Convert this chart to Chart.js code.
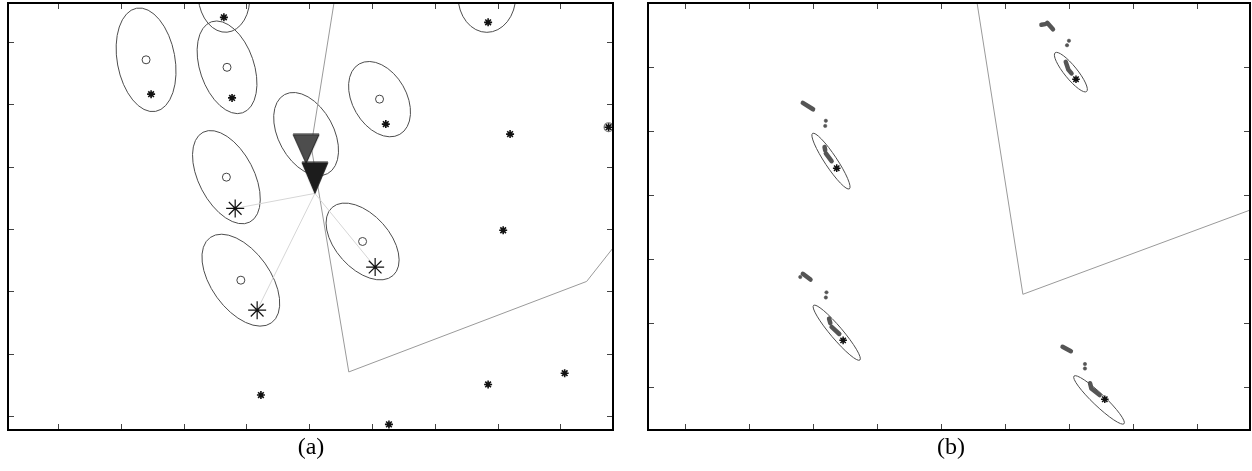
<!DOCTYPE html>
<html>
<head>
<meta charset="utf-8">
<script src="https://cdn.jsdelivr.net/npm/chart.js@4.4.1/dist/chart.umd.min.js"></script>
<style>
  html, body { margin: 0; padding: 0; background: #fff; }
  body { width: 1252px; height: 471px; position: relative; overflow: hidden; }
  #boxA { position: absolute; left: 0; top: 0; width: 620px; height: 440px; }
  #boxB { position: absolute; left: 640px; top: 0; width: 612px; height: 440px; }
  .cap { position: absolute; top: 433px; width: 80px; text-align: center;
         font-family: "Liberation Serif", "DejaVu Serif", serif; font-size: 24px; color: #000; }
</style>
</head>
<body>
<div id="boxA"><canvas id="chartA"></canvas></div>
<div id="boxB"><canvas id="chartB"></canvas></div>
<div class="cap" style="left:271px">(a)</div>
<div class="cap" style="left:911px">(b)</div>
<script>
// ---------- panel (a) ----------
const aXTicks = [1, 2, 3, 4, 5, 6, 7, 8, 9];
const aYTicks = [1, 2, 3, 4, 5, 6, 7];
const aXRange = [0.2, 9.84];
const aYRange = [0.78, 7.62];

// uncertainty ellipses: centre, semi-axes, orientation (deg)
const aEllCx = [2.40, 3.69, 3.64, 4.95, 6.12, 3.68, 3.91, 5.85, 7.83];
const aEllCy = [6.71, 6.59, 7.73, 5.52, 6.08, 4.83, 3.18, 3.80, 7.73];
const aEllA  = [0.84, 0.77, 0.58, 0.72, 0.65, 0.81, 0.84, 0.73, 0.58];
const aEllB  = [0.46, 0.43, 0.41, 0.44, 0.43, 0.44, 0.47, 0.43, 0.46];
const aEllAng = [100.4, 108.8, 95, 118.4, 119.8, 117.4, 125.5, 131.7, 90];

// estimated landmark means (open circles)
const aMeanX = [2.40, 3.69, 6.12, 3.68, 3.91, 5.85];
const aMeanY = [6.71, 6.59, 6.08, 4.83, 3.18, 3.80];

// true landmark positions (asterisks)
const aLmX = [2.48, 3.77, 3.64, 6.22, 7.85, 8.20, 8.09, 7.85, 9.07, 4.23, 6.27];
const aLmY = [6.16, 6.10, 7.39, 5.68, 7.31, 5.52, 3.98, 1.51, 1.69, 1.34, 0.87];
const aEdgeLm = [9.77, 5.63];

// landmarks currently observed (large asterisks)
const aObsX = [3.82, 4.17, 6.05];
const aObsY = [4.33, 2.70, 3.39];

// robot poses (triangle tips): previous and current
const aPrevPose = [4.95, 5.05];
const aPose = [5.09, 4.57];

// region boundary
const aBoundX = [5.44, 5.03, 5.63, 9.42, 10.11];
const aBoundY = [7.91, 5.33, 1.71, 3.16, 4.04];

// ---------- panel (b) ----------
const bXTicks = [1, 2, 3, 4, 5, 6, 7, 8, 9];
const bYTicks = [1, 2, 3, 4, 5, 6, 7];
const bXRange = [0.42, 9.83];
const bYRange = [0.33, 7.0];

const bEllCx = [3.28, 7.03, 3.37, 7.47];
const bEllCy = [4.53, 5.92, 1.85, 0.80];
const bEllA  = [0.52, 0.39, 0.56, 0.54];
const bEllB  = [0.095, 0.10, 0.095, 0.095];
const bEllAng = [-56.4, -50.9, -49.7, -43.6];

// estimate trails (thick strokes)
const bTracks = [
  [[2.84, 5.44], [3.00, 5.34]],
  [[3.18, 4.75], [3.19, 4.70]],
  [[3.20, 4.65], [3.29, 4.53]],
  [[6.57, 6.66], [6.63, 6.67]],
  [[6.66, 6.69], [6.75, 6.59]],
  [[6.95, 6.08], [6.99, 5.96], [7.04, 5.90]],
  [[2.84, 2.77], [2.96, 2.68]],
  [[3.25, 2.07], [3.27, 2.00]],
  [[3.29, 1.94], [3.41, 1.83]],
  [[6.90, 1.63], [7.03, 1.56]],
  [[7.33, 1.06], [7.35, 0.98], [7.48, 0.875]]
];
const bDotX = [3.20, 3.19, 7.00, 6.97, 3.21, 3.20, 2.80, 7.25, 7.25];
const bDotY = [5.16, 5.08, 6.41, 6.34, 2.48, 2.40, 2.72, 1.36, 1.29];

const bLmX = [3.37, 7.11, 3.47, 7.56];
const bLmY = [4.42, 5.81, 1.73, 0.81];

const bBoundX = [5.52, 6.28, 10.14];
const bBoundY = [7.28, 2.45, 3.88];

// ---------- helpers ----------
const pts = (xs, ys) => xs.map((v, i) => ({ x: v, y: ys[i] }));

// ellipses drawn in data space through the chart's scales
const ellipsePlugin = {
  id: 'ellipses',
  beforeDatasetsDraw(chart, args, opts) {
    const { ctx, chartArea: ca, scales: { x, y } } = chart;
    const sx = x.getPixelForValue(1) - x.getPixelForValue(0);
    const sy = y.getPixelForValue(0) - y.getPixelForValue(1);
    ctx.save();
    ctx.beginPath();
    ctx.rect(ca.left, ca.top, ca.width, ca.height);
    ctx.clip();
    opts.cx.forEach((cx, i) => {
      ctx.save();
      ctx.translate(x.getPixelForValue(cx), y.getPixelForValue(opts.cy[i]));
      ctx.scale(sx, -sy);
      ctx.rotate(opts.ang[i] * Math.PI / 180);
      ctx.beginPath();
      ctx.ellipse(0, 0, opts.a[i], opts.b[i], 0, 0, 2 * Math.PI);
      ctx.restore();
      ctx.strokeStyle = '#4d4d4d';
      ctx.lineWidth = 1;
      ctx.stroke();
    });
    ctx.restore();
  }
};

// boxed frame with inward tick marks on all four sides
const framePlugin = {
  id: 'frame',
  afterDraw(chart, args, opts) {
    const { ctx, chartArea: ca, scales: { x, y } } = chart;
    const len = 6;
    ctx.save();
    ctx.strokeStyle = '#444';
    ctx.lineWidth = 1;
    ctx.beginPath();
    opts.xTicks.forEach(v => {
      const p = Math.round(x.getPixelForValue(v)) + 0.5;
      ctx.moveTo(p, ca.bottom); ctx.lineTo(p, ca.bottom - len);
      ctx.moveTo(p, ca.top); ctx.lineTo(p, ca.top + len);
    });
    opts.yTicks.forEach(v => {
      const p = Math.round(y.getPixelForValue(v)) + 0.5;
      ctx.moveTo(ca.left, p); ctx.lineTo(ca.left + len, p);
      ctx.moveTo(ca.right, p); ctx.lineTo(ca.right - len, p);
    });
    ctx.stroke();
    ctx.strokeStyle = '#000';
    ctx.lineWidth = 2;
    ctx.strokeRect(ca.left, ca.top, ca.width, ca.height);
    ctx.restore();
  }
};

// downward triangle whose tip sits at the image centre
function tipTriangle(fill, w, h) {
  const c = document.createElement('canvas');
  c.width = w + 2;
  c.height = 2 * h + 2;
  const g = c.getContext('2d');
  g.beginPath();
  g.moveTo(1, 1);
  g.lineTo(w + 1, 1);
  g.lineTo(w / 2 + 1, h + 1);
  g.closePath();
  g.fillStyle = fill;
  g.fill();
  g.strokeStyle = '#1a1a1a';
  g.lineWidth = 1;
  g.stroke();
  return c;
}

function scaleOpts(xr, yr) {
  return {
    x: { type: 'linear', min: xr[0], max: xr[1], display: false },
    y: { type: 'linear', min: yr[0], max: yr[1], display: false }
  };
}

const common = {
  responsive: true,
  maintainAspectRatio: false,
  animation: false,
  events: [],
  plugins: { legend: { display: false }, tooltip: { enabled: false } }
};

// ---------- chart (a) ----------
const aDatasets = [];
aDatasets.push({
  data: pts(aBoundX, aBoundY), showLine: true, borderColor: '#9a9a9a',
  borderWidth: 1, pointRadius: 0, order: 10
});
aObsX.forEach((ox, i) => {
  aDatasets.push({
    data: [{ x: aPose[0], y: aPose[1] }, { x: ox, y: aObsY[i] }],
    showLine: true, borderColor: '#d6d6d6', borderWidth: 1, pointRadius: 0, order: 9
  });
});
aDatasets.push({
  data: pts(aMeanX, aMeanY), pointStyle: 'circle', pointRadius: 4,
  borderColor: '#444', backgroundColor: 'rgba(255,255,255,0)', borderWidth: 1, order: 8
});
aDatasets.push({
  data: [{ x: aEdgeLm[0], y: aEdgeLm[1] }], pointStyle: 'circle', pointRadius: 4.5,
  borderColor: '#777', backgroundColor: 'rgba(255,255,255,0)', borderWidth: 1.2, order: 7
});
aDatasets.push({
  data: pts(aLmX, aLmY).concat([{ x: aEdgeLm[0], y: aEdgeLm[1] }]),
  pointStyle: 'star', pointRadius: 4, borderColor: '#111', borderWidth: 1.6, order: 6
});
aDatasets.push({
  data: pts(aObsX, aObsY), pointStyle: 'star', pointRadius: 9,
  borderColor: '#111', borderWidth: 1.2, order: 5
});
aDatasets.push({
  data: [{ x: aPrevPose[0], y: aPrevPose[1] }], pointStyle: tipTriangle('#4d4d4d', 26, 29),
  pointRadius: 14, order: 4
});
aDatasets.push({
  data: [{ x: aPose[0], y: aPose[1] }], pointStyle: tipTriangle('#1c1c1c', 26, 31),
  pointRadius: 14, order: 3
});

new Chart(document.getElementById('chartA'), {
  type: 'scatter',
  data: { datasets: aDatasets },
  options: Object.assign({}, common, {
    layout: { autoPadding: false, padding: { left: 8, top: 3, right: 7, bottom: 10 } },
    scales: scaleOpts(aXRange, aYRange),
    plugins: Object.assign({}, common.plugins, {
      ellipses: { cx: aEllCx, cy: aEllCy, a: aEllA, b: aEllB, ang: aEllAng },
      frame: { xTicks: aXTicks, yTicks: aYTicks }
    })
  }),
  plugins: [ellipsePlugin, framePlugin]
});

// ---------- chart (b) ----------
const bDatasets = [];
bDatasets.push({
  data: pts(bBoundX, bBoundY), showLine: true, borderColor: '#9a9a9a',
  borderWidth: 1, pointRadius: 0, order: 10
});
bTracks.forEach(tr => {
  bDatasets.push({
    data: tr.map(p => ({ x: p[0], y: p[1] })), showLine: true,
    borderColor: '#555', borderWidth: 4.5, borderCapStyle: 'round', borderJoinStyle: 'round',
    pointRadius: 0, order: 8
  });
});
bDatasets.push({
  data: pts(bDotX, bDotY), pointStyle: 'circle', pointRadius: 1.7,
  backgroundColor: '#555', borderColor: '#555', borderWidth: 0.5, order: 7
});
bDatasets.push({
  data: pts(bLmX, bLmY), pointStyle: 'star', pointRadius: 3.8,
  borderColor: '#111', borderWidth: 1.5, order: 6
});

new Chart(document.getElementById('chartB'), {
  type: 'scatter',
  data: { datasets: bDatasets },
  options: Object.assign({}, common, {
    layout: { autoPadding: false, padding: { left: 8, top: 3, right: 2, bottom: 10 } },
    scales: scaleOpts(bXRange, bYRange),
    plugins: Object.assign({}, common.plugins, {
      ellipses: { cx: bEllCx, cy: bEllCy, a: bEllA, b: bEllB, ang: bEllAng },
      frame: { xTicks: bXTicks, yTicks: bYTicks }
    })
  }),
  plugins: [ellipsePlugin, framePlugin]
});
</script>
</body>
</html>
